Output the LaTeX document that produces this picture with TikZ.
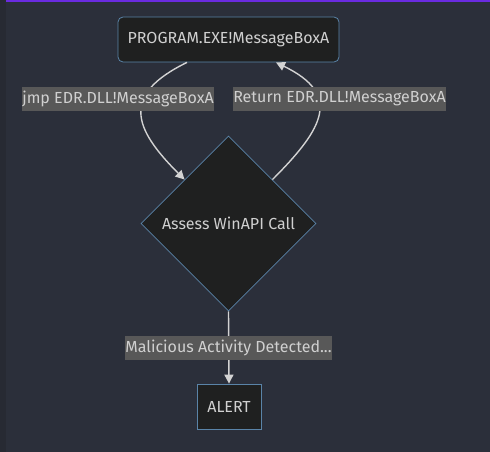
\documentclass[tikz,border=0pt]{standalone}
\usepackage{fontspec}
\setmainfont{Fira Sans}
\usetikzlibrary{shapes.geometric,arrows.meta}

\definecolor{bgcol}{HTML}{2B2F3A}
\definecolor{stripcol}{HTML}{272A33}
\definecolor{barcol}{HTML}{6A2BE0}
\definecolor{nodefill}{HTML}{1F2020}
\definecolor{nodeline}{HTML}{5A84A8}
\definecolor{textcol}{HTML}{D0D0D0}
\definecolor{labelfill}{HTML}{585858}
\definecolor{edgecol}{HTML}{D3D3D3}

\tikzset{
  box/.style={draw=nodeline, fill=nodefill, text=textcol, line width=0.8pt,
    inner sep=0pt, font=\fontsize{16}{18}\selectfont},
  decision/.style={box, diamond, aspect=1},
  edgelabel/.style={fill=labelfill, text=textcol, inner sep=0.5pt,
    minimum height=24pt, font=\fontsize{16}{18}\selectfont},
  edge/.style={draw=edgecol, line width=1.4pt,
    -{Triangle[length=9pt,width=9pt]}},
}

\begin{document}
\begin{tikzpicture}[x=1pt,y=-1pt]

  % background
  \fill[bgcol] (0,0) rectangle (490,452);
  \fill[stripcol] (0,0) rectangle (6,452);
  \fill[barcol] (6,0) rectangle (490,2.5);

  \node[box, rounded corners=5pt, minimum width=221pt, minimum height=45pt]
    (prog) at (228.5,39.5) {PROGRAM.EXE!MessageBoxA};
  \node[decision, minimum width=175pt, minimum height=175pt]
    (assess) at (228.5,223.5) {Assess WinAPI Call};
  \node[box, minimum width=64pt, minimum height=45pt]
    (alert) at (229,406.5) {ALERT};

  \draw[edge] ([xshift=-41.5pt]prog.south) to[out=206,in=135,looseness=1.6]
    (assess.north west);
  \draw[edge] (assess.north east) to[out=45,in=334,looseness=1.6]
    ([xshift=47.5pt]prog.south);
  \draw[edge] (assess.south) -- (alert.north);

  \node[edgelabel] (jmp) at (118,99) {jmp EDR.DLL!MessageBoxA};
  \node[edgelabel] (ret) at (339.5,99) {Return EDR.DLL!MessageBoxA};
  \node[edgelabel] (mal) at (228.5,347.5) {Malicious Activity Detected...};

\end{tikzpicture}
\end{document}
